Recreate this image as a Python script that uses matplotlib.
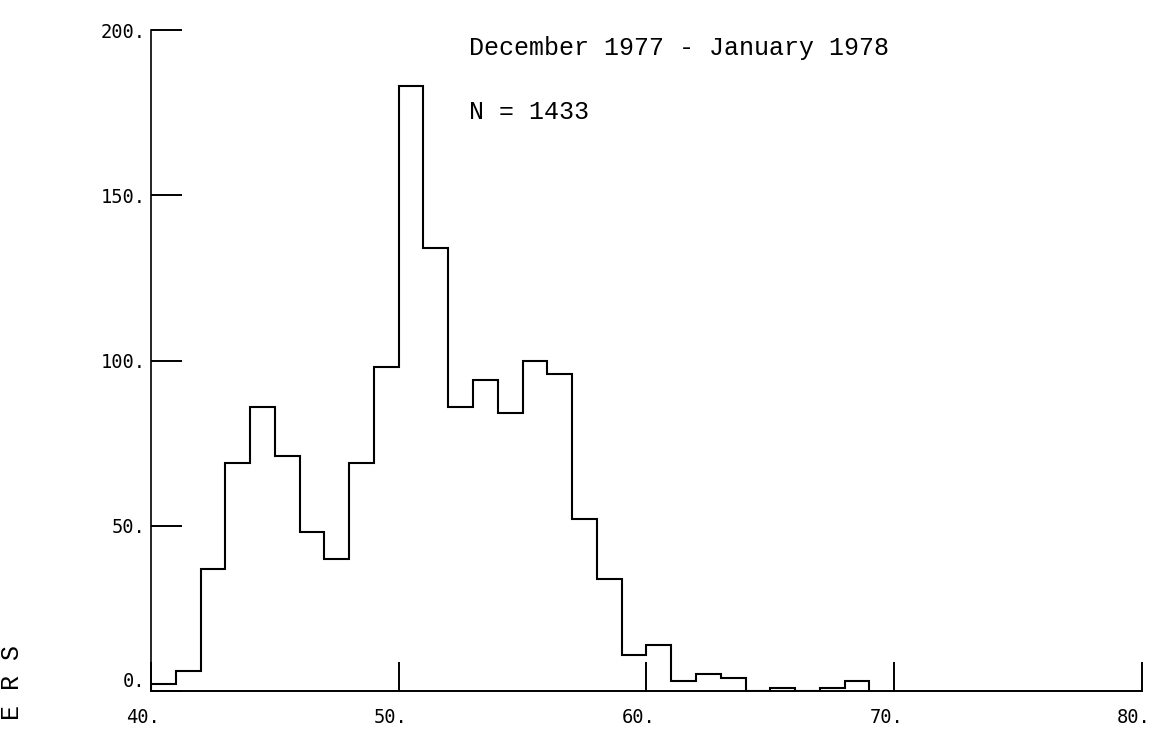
import numpy as np
import matplotlib
matplotlib.use("Agg")
import matplotlib.pyplot as plt
from matplotlib.transforms import ScaledTranslation

# Histogram data, one bin per unit from 40 to 69
bin_edges = np.arange(40, 70, 1)
counts = [2, 6, 37, 69, 86, 71, 48, 40, 69, 98,
          183, 134, 86, 94, 84, 100, 96, 52, 34, 11,
          14, 3, 5, 4, 0, 1, 0, 1, 3]

x_ticks = [40, 50, 60, 70, 80]
x_labels = ["40.", "50.", "60.", "70.", "80."]
y_ticks = [0, 50, 100, 150, 200]
y_labels = ["0.", "50.", "100.", "150.", "200."]

title_text = "December 1977 - January 1978"
n_text = "N = 1433"
ylabel_tail = "E R S"

fig = plt.figure(figsize=(11.55, 7.29), dpi=100)
ax = fig.add_axes([0.1307, 0.0521, 0.8580, 0.9067])

ax.stairs(counts, bin_edges, baseline=0, color="black", linewidth=1.5)

ax.set_xlim(40, 80)
ax.set_ylim(0, 200)
ax.spines["top"].set_visible(False)
ax.spines["right"].set_visible(False)
ax.spines["left"].set_linewidth(1.2)
ax.spines["bottom"].set_linewidth(1.4)

ax.set_xticks(x_ticks)
ax.set_xticklabels(x_labels)
ax.set_yticks(y_ticks)
ax.set_yticklabels(y_labels)
ax.tick_params(axis="x", direction="in", length=21, width=1.4, pad=12)
ax.tick_params(axis="y", direction="in", length=22, width=1.4, pad=4)
for lab in ax.get_xticklabels() + ax.get_yticklabels():
    lab.set_fontfamily("DejaVu Sans Mono")
    lab.set_fontsize(13.5)
# x labels sit a little left of their ticks, as on the plotter output
shift = ScaledTranslation(-8 / 100, 0, fig.dpi_scale_trans)
for lab in ax.get_xticklabels():
    lab.set_transform(lab.get_transform() + shift)
ax.get_yticklabels()[0].set_verticalalignment("bottom")

ax.text(0.3213, 0.9728, title_text, transform=ax.transAxes,
        family="Liberation Mono", fontsize=18, va="center", ha="left")
ax.text(0.3213, 0.876, n_text, transform=ax.transAxes,
        family="Liberation Mono", fontsize=18, va="center", ha="left")

fig.text(12 / 1155, 1 - 683 / 729, ylabel_tail, rotation=90,
         family="Liberation Mono", fontsize=18, va="center", ha="center")

fig.savefig("out.png", dpi=100)
